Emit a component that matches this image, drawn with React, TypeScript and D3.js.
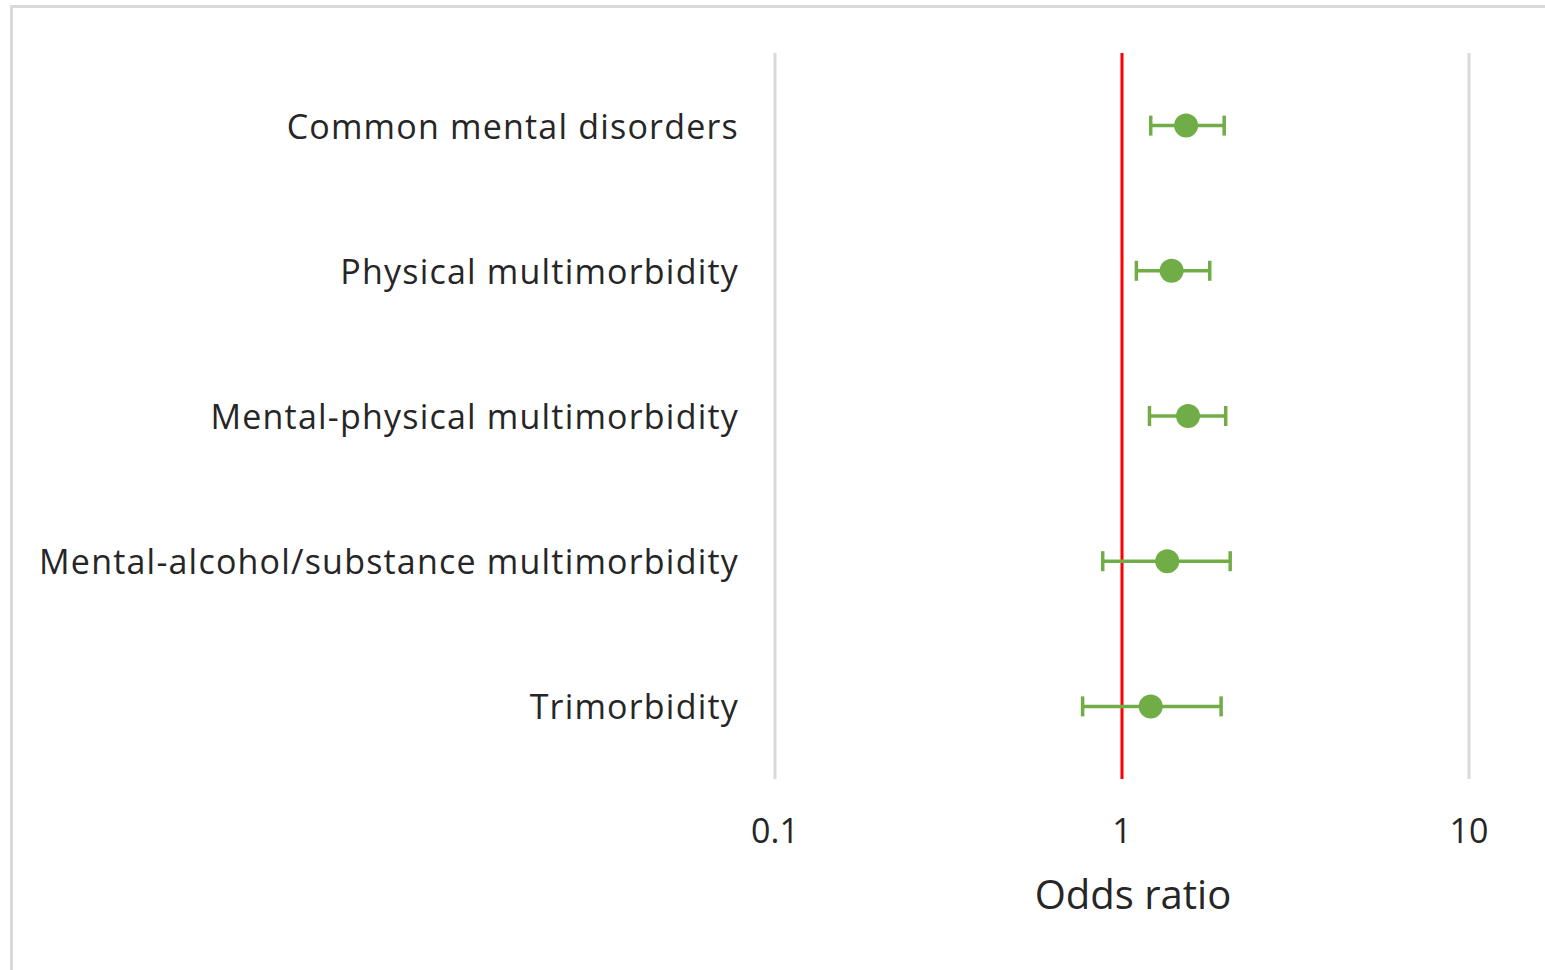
import React from "react";
import * as d3 from "d3";

const categories = [
  "Common mental disorders",
  "Physical multimorbidity",
  "Mental-physical multimorbidity",
  "Mental-alcohol/substance multimorbidity",
  "Trimorbidity",
];
const oddsRatios = [1.53, 1.39, 1.55, 1.35, 1.21];
const ciLower = [1.21, 1.1, 1.2, 0.88, 0.77];
const ciUpper = [1.97, 1.79, 1.99, 2.05, 1.93];
const xTicks = [0.1, 1, 10];
const xTitle = "Odds ratio";

const W = 1545;
const H = 970;
const FONT = "'Open Sans', sans-serif";
const GREEN = "#70ad47";

export default function App() {
  const x = d3.scaleLog().domain([0.1, 10]).range([775, 1469]);
  const y = d3.scaleBand().domain(categories).range([53, 779]);
  const capH = 20;
  return (
    <svg
      width={W}
      height={H}
      style={{ position: "absolute", left: 0, top: 0, background: "#fff" }}
    >
      {/* chart border */}
      <path d={`M11.5,${H} V6.5 H${W}`} fill="none" stroke="#d9d9d9" strokeWidth={3} />
      {/* gridlines */}
      {xTicks.filter((t) => t !== 1).map((t) => (
        <line key={t} x1={x(t)} x2={x(t)} y1={53} y2={779} stroke="#d9d9d9" strokeWidth={3} />
      ))}
      {/* reference line at 1 */}
      <line x1={x(1)} x2={x(1)} y1={53} y2={779} stroke="#ff0000" strokeWidth={3} />
      {/* tick labels */}
      {xTicks.map((t) => (
        <text
          key={t}
          x={x(t)}
          y={830}
          textAnchor="middle"
          dominantBaseline="central"
          fontFamily={FONT}
          fontSize={34}
          fill="#262626"
        >
          {String(t)}
        </text>
      ))}
      <text
        x={1133}
        y={893}
        textAnchor="middle"
        dominantBaseline="central"
        fontFamily={FONT}
        fontSize={40}
        fill="#262626"
      >
        {xTitle}
      </text>
      {/* category labels */}
      {categories.map((c) => (
        <text
          key={c}
          x={739}
          y={(y(c) as number) + y.bandwidth() / 2}
          textAnchor="end"
          dominantBaseline="central"
          fontFamily={FONT}
          fontSize={34}
          letterSpacing={1.2}
          fill="#262626"
        >
          {c}
        </text>
      ))}
      {/* error bars and points */}
      {categories.map((c, i) => {
        const cy = (y(c) as number) + y.bandwidth() / 2;
        const x0 = x(ciLower[i]);
        const x1 = x(ciUpper[i]);
        return (
          <g key={c}>
            <line x1={x0} x2={x1} y1={cy} y2={cy} stroke={GREEN} strokeWidth={3.5} />
            <line x1={x0} x2={x0} y1={cy - capH / 2} y2={cy + capH / 2} stroke={GREEN} strokeWidth={3.5} />
            <line x1={x1} x2={x1} y1={cy - capH / 2} y2={cy + capH / 2} stroke={GREEN} strokeWidth={3.5} />
            <circle cx={x(oddsRatios[i])} cy={cy} r={12} fill={GREEN} />
          </g>
        );
      })}
    </svg>
  );
}
